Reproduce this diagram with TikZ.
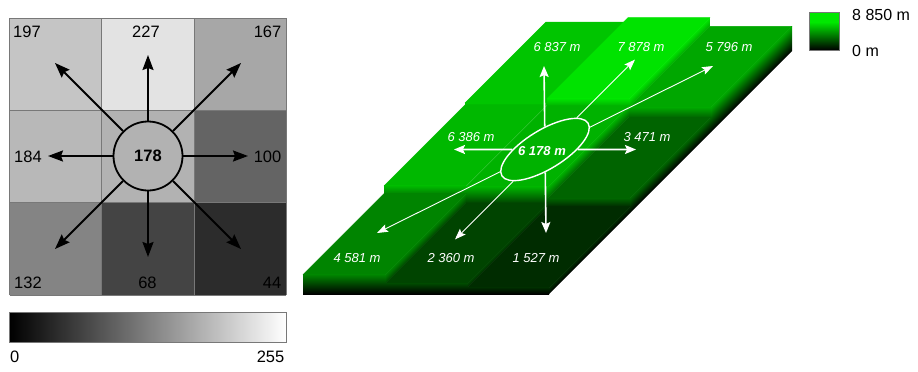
\documentclass[tikz,border=0pt]{standalone}
\usepackage{fontspec}
\setmainfont{Liberation Sans}
\usetikzlibrary{arrows.meta,shapes.geometric}
\definecolor{K197}{RGB}{197,197,197}\definecolor{G197}{RGB}{0,197,0}
\definecolor{K227}{RGB}{227,227,227}\definecolor{G227}{RGB}{0,227,0}
\definecolor{K167}{RGB}{167,167,167}\definecolor{G167}{RGB}{0,167,0}
\definecolor{K184}{RGB}{184,184,184}\definecolor{G184}{RGB}{0,184,0}
\definecolor{K178}{RGB}{178,178,178}\definecolor{G178}{RGB}{0,178,0}
\definecolor{K100}{RGB}{100,100,100}\definecolor{G100}{RGB}{0,100,0}
\definecolor{K132}{RGB}{132,132,132}\definecolor{G132}{RGB}{0,132,0}
\definecolor{K68}{RGB}{68,68,68}\definecolor{G68}{RGB}{0,68,0}
\definecolor{K44}{RGB}{44,44,44}\definecolor{G44}{RGB}{0,44,0}
\definecolor{gridgray}{RGB}{120,120,120}
\definecolor{Gleg}{RGB}{0,232,0}
\newcommand\rtface[5]{%
  \begin{scope}[transform canvas={yslant=1}]
    \shade[top color=#4,bottom color=#5] (#1,{#2+#1}) rectangle ({#1+81},{#3+#1});
  \end{scope}}
\begin{document}
\begin{tikzpicture}[x=1pt,y=-1pt,
  cellline/.style={draw=gridgray,line width=0.8pt},
  num/.style={font=\fontsize{16.5}{18}\selectfont,inner sep=0pt},
  topface/.style={fill=#1,draw=#1,line width=0.4pt,line join=round},
  garrow/.style={line width=1.8pt,-{Stealth[length=15pt,width=11pt,inset=2pt]}},
  wthick/.style={white,line width=1.6pt,-{Stealth[length=11pt,width=9pt,inset=2pt]}},
  wthin/.style={white,line width=0.9pt,-{Stealth[length=11pt,width=8pt,inset=2pt]}},
  hlab/.style={font=\fontsize{13}{15}\selectfont\itshape,text=white,inner sep=0pt}]
\useasboundingbox (0,0) rectangle (918,372);

% ---------- legend (drawn first) ----------
\fill[Gleg] (809.3,12.7) rectangle (839.3,50);
\shade[top color=Gleg,bottom color=black] (809.3,22) rectangle (839.3,50);
\draw[draw=gridgray,line width=0.6pt] (809.3,12.7) rectangle (839.3,50);
\node[num,font=\fontsize{16}{18}\selectfont,anchor=base west] (lmax) at (852,20) {8 850 m};
\node[num,font=\fontsize{16}{18}\selectfont,anchor=base west] (lmin) at (852,56.5) {0 m};

% ---------- left grid ----------
\foreach \i/\j/\g in {0/0/197,1/0/227,2/0/167,0/1/184,1/1/178,2/1/100,0/2/132,1/2/68,2/2/44}
  \fill[fill=K\g] ({9.5+92.2*\i},{18.3+92.2*\j}) rectangle +(92.2,92.2);
\foreach \k in {0,1,2,3}{
  \draw[cellline] ({9.5+92.2*\k},18.3) -- ({9.5+92.2*\k},294.9);
  \draw[cellline] (9.5,{18.3+92.2*\k}) -- (286.1,{18.3+92.2*\k});}

\node[num,anchor=base west] (n197) at (13,37) {197};
\node[num,anchor=base] (n227) at (146,37) {227};
\node[num,anchor=base east] (n167) at (281.5,37) {167};
\node[num,anchor=base west] (n184) at (14,162) {184};
\node[num,anchor=base east] (n100) at (281.5,162) {100};
\node[num,anchor=base west] (n132) at (14,288.5) {132};
\node[num,anchor=base] (n68) at (147.5,288.5) {68};
\node[num,anchor=base east] (n44) at (281.5,288.5) {44};

\node[circle,draw,line width=1.8pt,fill=K178,minimum size=69pt,inner sep=0pt,
      font=\bfseries\fontsize{16.5}{18}\selectfont] (c) at (148,156) {178};
\coordinate (tN) at (148,55);
\coordinate (tS) at (148,257);
\coordinate (tW) at (48,156);
\coordinate (tE) at (248,156);
\coordinate (tNW) at (55,63);
\coordinate (tNE) at (241,63);
\coordinate (tSW) at (55,249);
\coordinate (tSE) at (241,249);
\foreach \t in {tN,tS,tW,tE,tNW,tNE,tSW,tSE}
  \draw[garrow] (c) -- (\t);

% ---------- grey bar ----------
\shade[left color=black,right color=white] (9.3,312.3) rectangle (286,342.3);
\draw[draw=gridgray,line width=0.6pt] (9.3,312.3) rectangle (286,342.3);
\node[num,anchor=base west] (b0) at (10,362.5) {0};
\node[num,anchor=base east] (b255) at (284.5,362.5) {255};

% ---------- 3D block: far row ----------
\path[topface=G197] (465,103) -- (547,103) -- (628,22) -- (546,22) -- cycle;
\path[topface=G227] (547,98.58) -- (629,98.58) -- (710,17.58) -- (628,17.58) -- cycle;
\path[topface=G167] (629,107.42) -- (711,107.42) -- (792,26.42) -- (710,26.42) -- cycle;
\shade[top color=G197,bottom color=G184] (465,103) rectangle (547,104.91);
\shade[top color=G227,bottom color=G178] (547,98.58) rectangle (629,105.8);
\shade[top color=G167,bottom color=G100] (629,107.42) rectangle (711,117.28);
\rtface{629}{98.58}{107.42}{G227}{G167}
\rtface{711}{107.42}{132}{G167}{black}

% ---------- middle row ----------
\path[topface=G184] (384,185.91) -- (466,185.91) -- (547,104.91) -- (465,104.91) -- cycle;
\path[topface=G178] (466,186.8) -- (548,186.8) -- (629,105.8) -- (547,105.8) -- cycle;
\path[topface=G100] (548,198.28) -- (630,198.28) -- (711,117.28) -- (629,117.28) -- cycle;
\shade[top color=G184,bottom color=G132] (384,185.91) rectangle (466,193.57);
\shade[top color=G178,bottom color=G68] (466,186.8) rectangle (548,202.99);
\shade[top color=G100,bottom color=G44] (548,198.28) rectangle (630,206.52);
\rtface{466}{185.91}{186.8}{G184}{G178}
\rtface{548}{186.8}{198.28}{G178}{G100}
\rtface{630}{198.28}{213}{G100}{black}

% ---------- near row ----------
\path[topface=G132] (303,274.57) -- (385,274.57) -- (466,193.57) -- (384,193.57) -- cycle;
\path[topface=G68] (385,283.99) -- (467,283.99) -- (548,202.99) -- (466,202.99) -- cycle;
\path[topface=G44] (467,287.52) -- (549,287.52) -- (630,206.52) -- (548,206.52) -- cycle;
\shade[top color=G132,bottom color=black] (303,274.57) rectangle (385,294);
\shade[top color=G68,bottom color=black] (385,283.99) rectangle (467,294);
\shade[top color=G44,bottom color=black] (467,287.52) rectangle (549,294);
\rtface{385}{274.57}{283.99}{G132}{G68}
\rtface{467}{283.99}{287.52}{G68}{G44}
\rtface{549}{287.52}{294}{G44}{black}

% ---------- overlay ----------
\node[ellipse,draw=white,line width=1.4pt,minimum width=101pt,minimum height=39pt,
      inner sep=0pt,rotate=31.4] (e) at (545,149.5) {};
\coordinate (a6837) at (544,66);
\coordinate (a7878) at (635,59.6);
\coordinate (a5796) at (713,66);
\coordinate (a6386) at (454,149.5);
\coordinate (a3471) at (636,149.5);
\coordinate (a4581) at (377,233);
\coordinate (a2360) at (455,239.4);
\coordinate (a1527) at (546,233);
\foreach \t in {a6837,a1527,a6386,a3471}
  \draw[wthick] (e) -- (\t);
\foreach \t in {a7878,a5796,a4581,a2360}
  \draw[wthin] (e) -- (\t);

\node[hlab] (l6837) at (557,47) {6 837 m};
\node[hlab] (l7878) at (641,47) {7 878 m};
\node[hlab] (l5796) at (729,47) {5 796 m};
\node[hlab] (l6386) at (471,137) {6 386 m};
\node[hlab,font=\fontsize{13}{15}\selectfont\bfseries\itshape] (l6178) at (542,151) {6 178 m};
\node[hlab] (l3471) at (647,137) {3 471 m};
\node[hlab] (l4581) at (357,258) {4 581 m};
\node[hlab] (l2360) at (451,258) {2 360 m};
\node[hlab] (l1527) at (536,258) {1 527 m};
\end{tikzpicture}
\end{document}
